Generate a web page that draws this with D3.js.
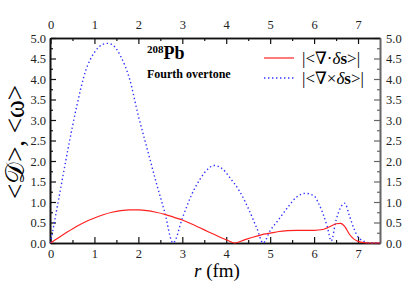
<!DOCTYPE html>
<html>
<head>
<meta charset="utf-8">
<script src="https://cdn.jsdelivr.net/npm/d3@7"></script>
<style>
  body { margin: 0; background: #fff; }
  svg text { font-family: "Liberation Serif", "DejaVu Serif", serif; }
</style>
</head>
<body>
<svg id="chart" width="415" height="282" font-family="Liberation Serif, serif"></svg>
<script>
// r (fm) and |<div ds>| (red solid)
const divR = [0, 0.2, 0.4, 0.6, 0.8, 1.0, 1.2, 1.4, 1.6, 1.8, 2.0, 2.2, 2.4, 2.6, 2.8, 3.0, 3.2, 3.4, 3.6, 3.8, 4.0, 4.2,
  4.4, 4.6, 4.8, 5.0, 5.2, 5.4, 5.6, 5.8, 6.0, 6.2, 6.3, 6.4, 6.5, 6.6, 6.7, 6.8, 6.9, 7.0, 7.1, 7.2, 7.3, 7.5];
const divVal = [0, 0.14, 0.28, 0.41, 0.52, 0.61, 0.69, 0.75, 0.79, 0.81, 0.81, 0.79, 0.75, 0.70, 0.63, 0.56, 0.47, 0.37, 0.27, 0.17, 0.08, 0.0,
  0.07, 0.14, 0.2, 0.24, 0.28, 0.3, 0.31, 0.31, 0.31, 0.33, 0.37, 0.42, 0.47, 0.48, 0.40, 0.22, 0.1, 0.04, 0.015, 0.005, 0, 0];

// r (fm) and |<curl ds>| (blue dotted)
const curlR = [0, 0.2, 0.4, 0.6, 0.8, 1.0, 1.2, 1.3, 1.4, 1.6, 1.8, 2.0, 2.2, 2.4, 2.6, 2.79,
  3.0, 3.2, 3.4, 3.6, 3.72, 3.9, 4.1, 4.3, 4.5, 4.7, 4.84,
  5.0, 5.2, 5.4, 5.6, 5.8, 6.0, 6.1, 6.2, 6.3, 6.39, 6.5, 6.6, 6.7, 6.8, 6.9, 7.0, 7.1, 7.2, 7.3, 7.5];
const curlVal = [0, 1.15, 2.3, 3.35, 4.2, 4.65, 4.85, 4.87, 4.84, 4.55, 4.0, 3.1, 2.3, 1.5, 0.75, 0.0,
  0.6, 1.15, 1.55, 1.82, 1.89, 1.82, 1.57, 1.27, 0.85, 0.35, 0.0,
  0.3, 0.58, 0.87, 1.12, 1.21, 1.15, 0.97, 0.72, 0.4, 0.05, 0.56, 0.86, 0.97, 0.68, 0.37, 0.15, 0.06, 0.02, 0, 0];

const xTicks = [0, 1, 2, 3, 4, 5, 6, 7];
const yTicks = [0, 0.5, 1.0, 1.5, 2.0, 2.5, 3.0, 3.5, 4.0, 4.5, 5.0];

const margin = {top: 38, right: 35, bottom: 39, left: 50};
const svg = d3.select('#chart');
const width = +svg.attr('width') - margin.left - margin.right;
const height = +svg.attr('height') - margin.top - margin.bottom;
const g = svg.append('g').attr('transform', `translate(${margin.left},${margin.top})`);

const x = d3.scaleLinear().domain([0, 7.5]).range([0.5, width]);
const y = d3.scaleLinear().domain([0, 5]).range([height, 0]);

const xMinor = d3.range(0.5, 7.5, 1);
const yMinor = d3.range(0.25, 5, 0.5);

function styleAxis(sel, color) {
  sel.attr('font-family', null);
  sel.selectAll('.domain').attr('stroke', color).attr('stroke-width', 1.6);
  sel.selectAll('.tick line').attr('stroke', color).attr('stroke-width', 1.2);
  sel.selectAll('.tick text').attr('font-size', 12.5).attr('fill', '#222');
}

// major axes
const axisB = g.append('g').attr('transform', `translate(0,${height})`)
  .call(d3.axisBottom(x).tickValues(xTicks).tickFormat(d3.format('d')).tickSizeInner(-6).tickSizeOuter(0).tickPadding(6));
styleAxis(axisB, '#111');
const axisT = g.append('g')
  .call(d3.axisTop(x).tickValues(xTicks).tickFormat(d3.format('d')).tickSizeInner(-6).tickSizeOuter(0).tickPadding(9));
styleAxis(axisT, '#111');
const axisL = g.append('g')
  .call(d3.axisLeft(y).tickValues(yTicks).tickFormat(d3.format('.1f')).tickSizeInner(-6).tickSizeOuter(0).tickPadding(4));
styleAxis(axisL, '#111');
const axisR = g.append('g').attr('transform', `translate(${width},0)`)
  .call(d3.axisRight(y).tickValues(yTicks).tickFormat(d3.format('.1f')).tickSizeInner(-6).tickSizeOuter(0).tickPadding(6));
styleAxis(axisR, '#666');

// minor ticks
const minorB = g.append('g').attr('transform', `translate(0,${height})`)
  .call(d3.axisBottom(x).tickValues(xMinor).tickFormat('').tickSizeInner(-3).tickSizeOuter(0));
styleAxis(minorB, '#111');
const minorT = g.append('g')
  .call(d3.axisTop(x).tickValues(xMinor).tickFormat('').tickSizeInner(-3).tickSizeOuter(0));
styleAxis(minorT, '#111');
const minorL = g.append('g')
  .call(d3.axisLeft(y).tickValues(yMinor).tickFormat('').tickSizeInner(-3).tickSizeOuter(0));
styleAxis(minorL, '#111');
const minorR = g.append('g').attr('transform', `translate(${width},0)`)
  .call(d3.axisRight(y).tickValues(yMinor).tickFormat('').tickSizeInner(-3).tickSizeOuter(0));
styleAxis(minorR, '#666');

// curves
const line = d3.line().x(d => x(d[0])).y(d => y(d[1])).curve(d3.curveMonotoneX);

g.append('path')
  .datum(d3.zip(curlR, curlVal))
  .attr('fill', 'none')
  .attr('stroke', '#3333ff')
  .attr('stroke-width', 1.4)
  .attr('stroke-dasharray', '1.4,2.6')
  .attr('d', line);

g.append('path')
  .datum(d3.zip(divR, divVal))
  .attr('fill', 'none')
  .attr('stroke', '#ff2020')
  .attr('stroke-width', 1.2)
  .attr('d', line);

// labels
const lab = svg.append('text').attr('x', 147).attr('y', 59)
  .attr('font-weight', 'bold').attr('font-size', 18);
lab.append('tspan').attr('font-size', 11).attr('dy', -6).text('208');
lab.append('tspan').attr('dy', 6).text('Pb');

svg.append('text').attr('x', 147).attr('y', 78)
  .attr('font-weight', 'bold').attr('font-size', 12).text('Fourth overtone');

// legend
svg.append('line').attr('x1', 264).attr('x2', 294).attr('y1', 58).attr('y2', 58)
  .attr('stroke', '#ff2020').attr('stroke-width', 1.2);
svg.append('line').attr('x1', 264).attr('x2', 294).attr('y1', 78).attr('y2', 78)
  .attr('stroke', '#3333ff').attr('stroke-width', 1.4).attr('stroke-dasharray', '1.4,2.6');

const leg1 = svg.append('text').attr('x', 302).attr('y', 64).attr('font-size', 17);
leg1.append('tspan').text('|<∇·');
leg1.append('tspan').attr('font-style', 'italic').text('δ');
leg1.append('tspan').attr('font-weight', 'bold').text('s');
leg1.append('tspan').text('>|');
const leg2 = svg.append('text').attr('x', 302).attr('y', 84).attr('font-size', 17);
leg2.append('tspan').text('|<∇×');
leg2.append('tspan').attr('font-style', 'italic').text('δ');
leg2.append('tspan').attr('font-weight', 'bold').text('s');
leg2.append('tspan').text('>|');

// axis titles
const xt = svg.append('text').attr('x', 217).attr('y', 277).attr('text-anchor', 'middle').attr('font-size', 19);
xt.append('tspan').attr('font-style', 'italic').text('r');
xt.append('tspan').text(' (fm)');

svg.append('text')
  .attr('transform', 'translate(24,142) rotate(-90)')
  .attr('text-anchor', 'middle')
  .attr('font-size', 27)
  .text('<𝒟>, <ω>');
</script>
</body>
</html>
